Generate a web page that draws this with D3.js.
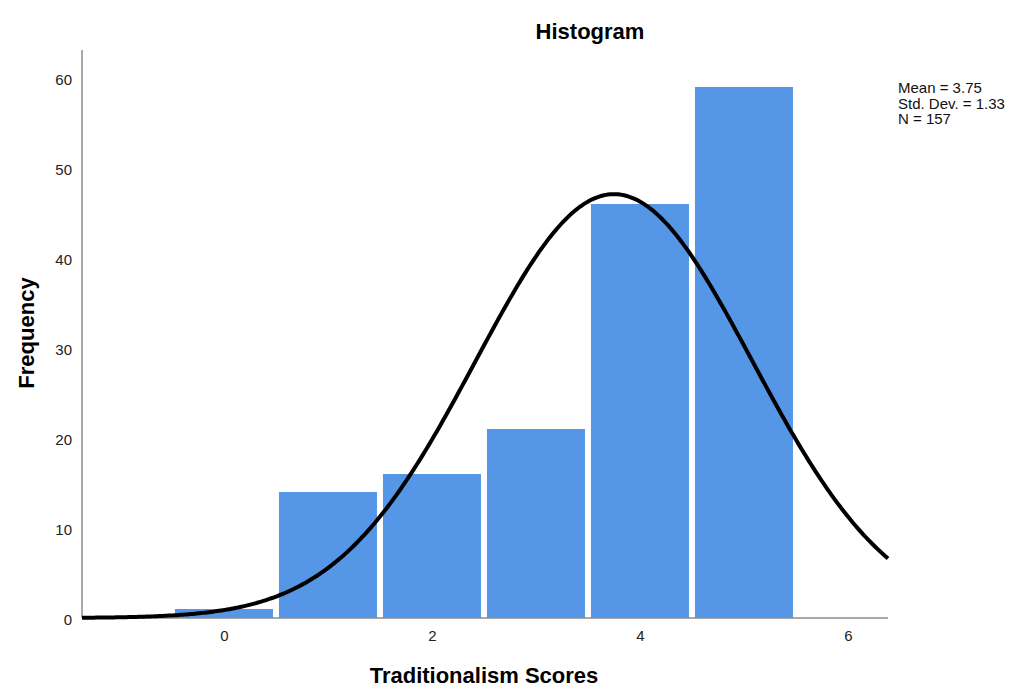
<!DOCTYPE html>
<html>
<head>
<meta charset="utf-8">
<script src="https://cdn.jsdelivr.net/npm/d3@7"></script>
<style>
  html, body { margin: 0; padding: 0; background: #fff; }
  svg { display: block; font-family: "Liberation Sans", Arial, sans-serif; }
</style>
</head>
<body>
<svg id="chart" width="1017" height="698"></svg>
<script>
// Histogram bins (score midpoints) and their counts
const binCenters = [0, 1, 2, 3, 4, 5];
const frequencies = [1, 14, 16, 21, 46, 59];
const xTickValues = [0, 2, 4, 6];
const yTickValues = [0, 10, 20, 30, 40, 50, 60];
const statLines = ["Mean = 3.75", "Std. Dev. = 1.33", "N = 157"];

const mean = 3.75, sd = 1.33, n = 157, binWidth = 1;

const svg = d3.select("#chart");
const plotLeft = 82, plotRight = 888, plotTop = 50, plotBottom = 618;

const x = d3.scaleLinear().domain([-1.365, 6.385]).range([plotLeft, plotRight]);
const y = d3.scaleLinear().domain([0, 60]).range([plotBottom, 78]);

// Bars
svg.append("g").selectAll("rect")
  .data(binCenters.map((c, i) => ({ c, f: frequencies[i] })))
  .join("rect")
  .attr("x", d => x(d.c - binWidth / 2) + 3)
  .attr("width", d => x(d.c + binWidth / 2) - x(d.c - binWidth / 2) - 6)
  .attr("y", d => y(d.f))
  .attr("height", d => y(0) - y(d.f))
  .attr("fill", "#5596e6");

// Axes (lines only, no tick marks)
const axisColor = "#8c8c8c";
svg.append("line").attr("x1", plotLeft).attr("x2", plotLeft).attr("y1", plotTop).attr("y2", plotBottom)
  .attr("stroke", axisColor).attr("stroke-width", 1.5);
svg.append("line").attr("x1", plotLeft).attr("x2", plotRight).attr("y1", plotBottom).attr("y2", plotBottom)
  .attr("stroke", axisColor).attr("stroke-width", 1.5);

const yAxis = d3.axisLeft(y).tickValues(yTickValues).tickSize(0).tickPadding(10);
svg.append("g").attr("transform", `translate(${plotLeft},2)`).call(yAxis)
  .call(g => g.select(".domain").remove())
  .call(g => g.selectAll("text").attr("font-size", 15).attr("fill", "#222")
    .attr("font-family", "Liberation Sans, Arial, sans-serif"));

const xAxis = d3.axisBottom(x).tickValues(xTickValues).tickSize(0).tickPadding(12);
svg.append("g").attr("transform", `translate(0,${plotBottom})`).call(xAxis)
  .call(g => g.select(".domain").remove())
  .call(g => g.selectAll("text").attr("font-size", 15).attr("fill", "#222")
    .attr("font-family", "Liberation Sans, Arial, sans-serif"));

// Normal curve scaled to counts
const pdf = v => Math.exp(-0.5 * ((v - mean) / sd) ** 2) / (sd * Math.sqrt(2 * Math.PI));
const curvePts = d3.range(0, 401).map(i => {
  const v = x.domain()[0] + (x.domain()[1] - x.domain()[0]) * i / 400;
  return [v, n * binWidth * pdf(v)];
});
svg.append("path")
  .datum(curvePts)
  .attr("d", d3.line().x(d => x(d[0])).y(d => y(d[1])))
  .attr("fill", "none")
  .attr("stroke", "#000")
  .attr("stroke-width", 4);

// Titles
svg.append("text").attr("x", 590).attr("y", 39).attr("text-anchor", "middle")
  .attr("font-size", 22).attr("font-weight", "bold").text("Histogram");
svg.append("text").attr("x", 484).attr("y", 683).attr("text-anchor", "middle")
  .attr("font-size", 22).attr("font-weight", "bold").text("Traditionalism Scores");
svg.append("text").attr("transform", "translate(34,333) rotate(-90)").attr("text-anchor", "middle")
  .attr("font-size", 22).attr("font-weight", "bold").text("Frequency");

// Summary statistics
svg.append("g").selectAll("text").data(statLines).join("text")
  .attr("x", 898).attr("y", (d, i) => 93 + i * 15.5)
  .attr("font-size", 15).attr("fill", "#111").text(d => d);
</script>
</body>
</html>
